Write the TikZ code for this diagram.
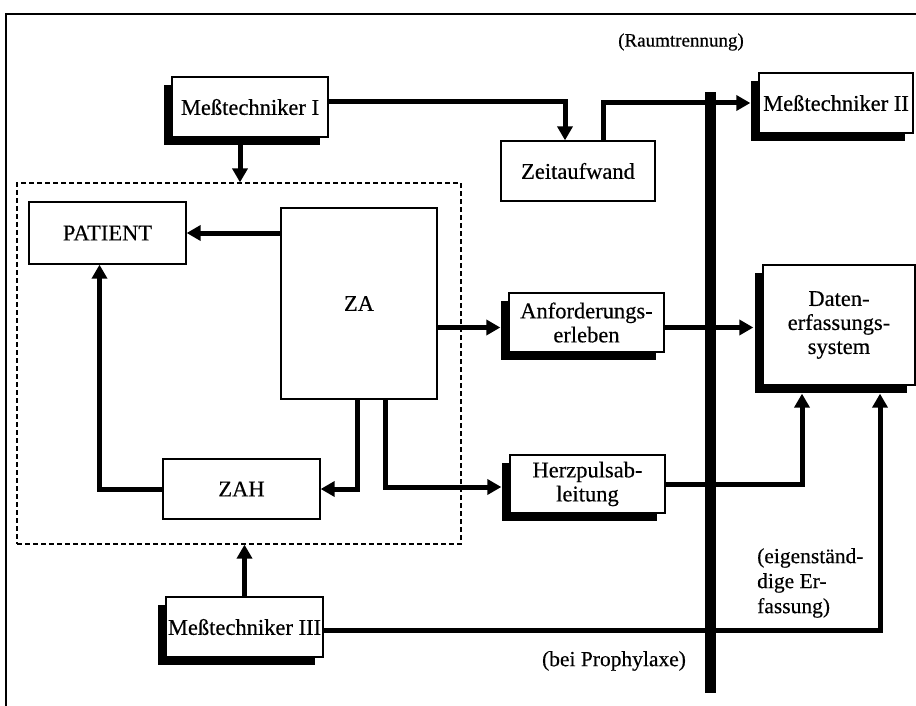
\documentclass[tikz,border=0pt]{standalone}
\usepackage{fontspec}
\setmainfont{Liberation Serif}[UprightFeatures={FakeBold=0.4}]
\usetikzlibrary{arrows.meta,shadows,calc}
\begin{document}
\begin{tikzpicture}[x=1pt,y=-1pt,
  box/.style={draw, line width=1.3pt, fill=white, inner sep=0pt, align=center,
    font=\fontsize{22.5}{24}\selectfont},
  sbox/.style={box, drop shadow={shadow xshift=-8pt, shadow yshift=-8pt, fill=black, opacity=1}},
  conn/.style={line width=5pt, -{Triangle[length=14pt,width=15pt]}},
  lbl/.style={font=\fontsize{21.5}{25}\selectfont, inner sep=0pt, align=left},
  grpbox/.style={draw, line width=1.2pt, dash pattern=on 5pt off 3pt, inner sep=0pt}
]
\useasboundingbox (0,0) rectangle (916,706);
% outer frame
\draw[line width=1.5pt] (6,706) -- (6,14) -- (916,14);
% group (dashed)
\node[grpbox, minimum width=444pt, minimum height=361pt] (grp) at (239,363.5) {};
% room separation bar
\fill (705,92) rectangle (716,693);
\node[lbl, font=\fontsize{19}{22}\selectfont] (raum) at (681,42) {(Raumtrennung)};
% boxes
\node[sbox, minimum width=156pt, minimum height=60pt] (mt1) at (250,107) {Meßtechniker I};
\node[box, minimum width=154pt, minimum height=60pt] (zeit) at (578,171) {Zeitaufwand};
\node[sbox, minimum width=154pt, minimum height=60pt] (mt2) at (836,103) {Meßtechniker II};
\node[sbox, minimum width=152pt, minimum height=120pt] (daten) at (839,325) {Daten-\\erfassungs-\\system};
\node[sbox, minimum width=155pt, minimum height=59pt] (anf) at (586.5,322.5) {Anforderungs-\\erleben};
\node[sbox, minimum width=155pt, minimum height=58pt] (herz) at (587.5,484) {Herzpulsab-\\leitung};
\node[box, minimum width=157pt, minimum height=62pt] (patient) at (107.5,233) {PATIENT};
\node[box, minimum width=156pt, minimum height=191pt] (za) at (359,303.5) {ZA};
\node[box, minimum width=157pt, minimum height=60pt] (zah) at (241.5,489) {ZAH};
\node[sbox, minimum width=157pt, minimum height=60pt] (mt3) at (244.5,627) {Meßtechniker III};
% labels
\node[lbl, anchor=west] (eig) at (757,583) {(eigenständ-\\dige Er-\\fassung)};
\node[lbl] (prop) at (614,661) {(bei Prophylaxe)};
% helper coordinates
\coordinate (mt1s) at ([xshift=-10pt,yshift=-6pt]mt1.south);
\coordinate (mt1e) at ([yshift=5pt]mt1.east);
\coordinate (zeitin) at ([xshift=-13pt]zeit.north);
\coordinate (zeitout) at ([xshift=25pt]zeit.north);
\coordinate (mt2in) at ([xshift=-8pt]mt2.west);
\coordinate (anfin) at ([xshift=-8pt,yshift=-5pt]anf.west);
\coordinate (anfout) at ([yshift=-5pt]anf.east);
\coordinate (datin) at ([xshift=-9pt]daten.west);
\coordinate (zaL) at ([xshift=-2pt]za.south);
\coordinate (zaR) at ([xshift=26pt]za.south);
\coordinate (herzin) at ([xshift=-8pt,yshift=-3pt]herz.west);
\coordinate (patin) at ([xshift=-8pt]patient.south);
\coordinate (dsb) at ([yshift=-8pt]daten.south);
\coordinate (dinA) at ([xshift=-37pt]dsb);
\coordinate (dinB) at ([xshift=41pt]dsb);
\coordinate (mt3out) at ([yshift=-3pt]mt3.east);
% connectors
\draw[conn] (mt1s) -- (mt1s |- grp.north);
\draw[conn] (mt1e) -| (zeitin);
\draw[conn] (zeitout) |- (mt2in);
\draw[conn] (za.west |- patient.east) -- (patient.east);
\draw[conn] (za.east |- anfin) -- (anfin);
\draw[conn] (anfout) -- (anfout -| datin);
\draw[conn] (zaL) |- (zah.east);
\draw[conn] (zaR) |- (herzin);
\draw[conn] (zah.west) -| (patin);
\draw[conn] (mt3.north) -- (mt3.north |- grp.south);
\draw[conn] (herz.east) -| (dinA);
\draw[conn] (mt3out) -| (dinB);
\end{tikzpicture}
\end{document}
